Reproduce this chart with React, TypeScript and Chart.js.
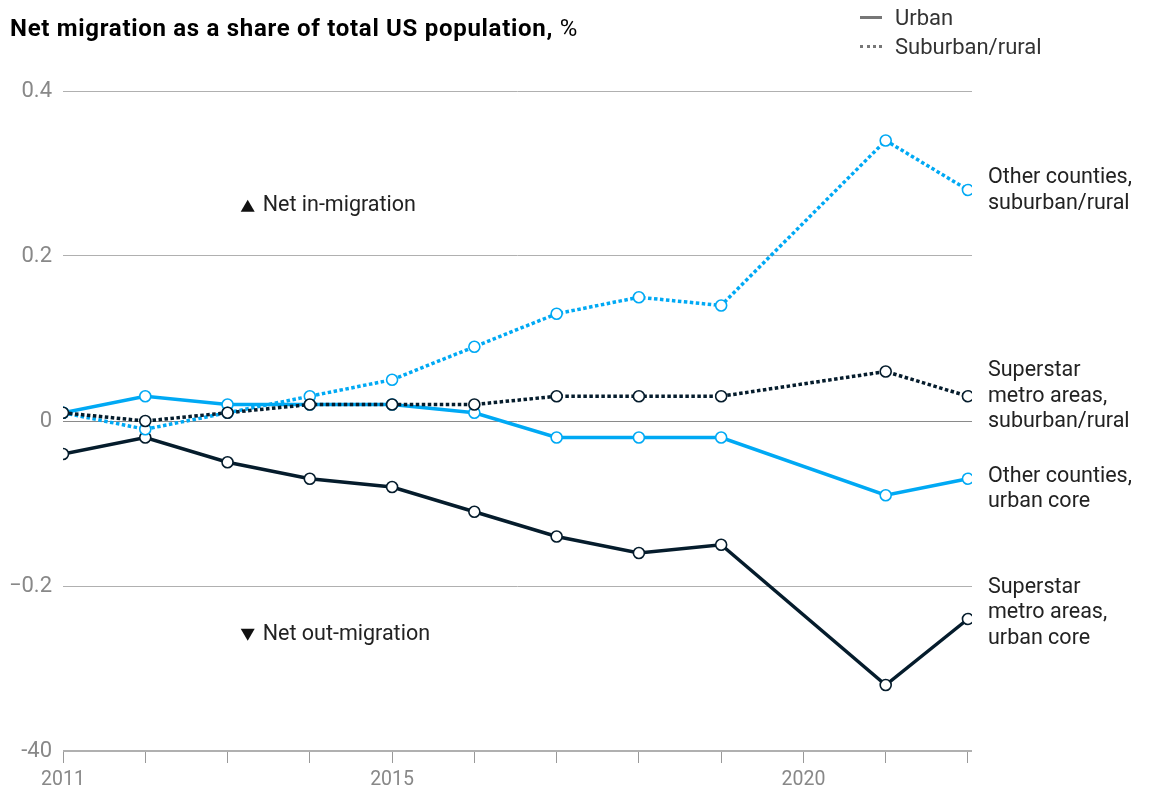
import React, { useEffect, useRef } from "react";
import { Chart, registerables } from "chart.js";

Chart.register(...registerables);

const years = [2011, 2012, 2013, 2014, 2015, 2016, 2017, 2018, 2019, 2020, 2021, 2022];
const superstarUrban = [-0.04, -0.02, -0.05, -0.07, -0.08, -0.11, -0.14, -0.16, -0.15, null, -0.32, -0.24];
const otherUrban = [0.01, 0.03, 0.02, 0.02, 0.02, 0.01, -0.02, -0.02, -0.02, null, -0.09, -0.07];
const otherSuburban = [0.01, -0.01, 0.01, 0.03, 0.05, 0.09, 0.13, 0.15, 0.14, null, 0.34, 0.28];
const superstarSuburban = [0.01, 0.0, 0.01, 0.02, 0.02, 0.02, 0.03, 0.03, 0.03, null, 0.06, 0.03];

const yTickValues = [-0.4, -0.2, 0, 0.2, 0.4];
const yTickLabels = ["-40", "\u22120.2", "0", "0.2", "0.4"];
const xLabeledYears = [2011, 2015, 2020];

const seriesLabels = [
  ["Other counties,", "suburban/rural"],
  ["Superstar", "metro areas,", "suburban/rural"],
  ["Other counties,", "urban core"],
  ["Superstar", "metro areas,", "urban core"],
];
const seriesLabelAnchors = [0.279, 0.03, -0.0825, -0.2325];

const BLUE = "#00A9F4";
const NAVY = "#051C2C";
const FONT = "Roboto, 'Liberation Sans', sans-serif";

export default function App() {
  const ref = useRef<HTMLCanvasElement | null>(null);

  useEffect(() => {
    if (!ref.current) return;
    const labelsPlugin = {
      id: "sideLabels",
      afterDatasetsDraw(chart: any) {
        const ctx = chart.ctx;
        const y = chart.scales.y;
        const x = chart.scales.x;
        ctx.save();
        ctx.fillStyle = "#222";
        ctx.font = `21.5px ${FONT}`;
        ctx.textBaseline = "middle";
        ctx.textAlign = "left";
        const lh = 25.5;
        seriesLabels.forEach((lines, i) => {
          const cy = y.getPixelForValue(seriesLabelAnchors[i]);
          const start = cy - ((lines.length - 1) * lh) / 2;
          lines.forEach((t, j) => ctx.fillText(t, 988, start + j * lh));
        });
        // annotations
        const ax = x.getPixelForValue(2013.16);
        const drawTri = (px: number, py: number, up: boolean) => {
          ctx.beginPath();
          if (up) {
            ctx.moveTo(px, py - 6);
            ctx.lineTo(px + 7, py + 6);
            ctx.lineTo(px - 7, py + 6);
          } else {
            ctx.moveTo(px, py + 6);
            ctx.lineTo(px + 7, py - 6);
            ctx.lineTo(px - 7, py - 6);
          }
          ctx.closePath();
          ctx.fill();
        };
        const inY = y.getPixelForValue(0.261);
        const outY = y.getPixelForValue(-0.259);
        ctx.fillStyle = "#111";
        drawTri(ax + 7, inY, true);
        drawTri(ax + 7, outY, false);
        ctx.fillStyle = "#222";
        ctx.fillText("Net in-migration", ax + 22, inY);
        ctx.fillText("Net out-migration", ax + 22, outY);
        ctx.restore();
      },
    };

    const mk = (data: (number | null)[], color: string, dotted: boolean) => ({
      data,
      borderColor: color,
      backgroundColor: "#fff",
      borderWidth: 3.5,
      borderDash: dotted ? [3.5, 2.5] : [],
      pointRadius: 5.5,
      pointBorderWidth: 1.6,
      pointBackgroundColor: "#fff",
      pointBorderColor: color,
      spanGaps: true,
      tension: 0,
      borderCapStyle: "butt",
    });

    const chart = new Chart(ref.current, {
      type: "line",
      data: {
        labels: years,
        datasets: [
          mk(superstarSuburban, NAVY, true),
          mk(otherSuburban, BLUE, true),
          mk(superstarUrban, NAVY, false),
          mk(otherUrban, BLUE, false),
        ].map((d, i) => ({ ...d, order: i })) as any,
      },
      options: {
        animation: false,
        responsive: false,
        layout: { padding: { top: 91, right: 177, left: 0, bottom: 0 } },
        plugins: { legend: { display: false }, tooltip: { enabled: false } },
        scales: {
          x: {
            type: "linear",
            min: 2011,
            max: 2022.049,
            afterBuildTicks: (s: any) => {
              s.ticks = years.map((v) => ({ value: v }));
            },
            afterFit: (s: any) => {
              s.height = 42;
            },
            border: { display: false },
            grid: {
              drawOnChartArea: false,
              drawTicks: true,
              tickLength: 12,
              color: "#999",
              lineWidth: 1,
            },
            ticks: {
              autoSkip: false,
              maxRotation: 0,
              padding: 5,
              color: "#888",
              font: { family: FONT, size: 19.5 },
              callback: (v: any) => (xLabeledYears.includes(Number(v)) ? String(v) : ""),
            },
          },
          y: {
            min: -0.4,
            max: 0.4,
            afterBuildTicks: (s: any) => {
              s.ticks = yTickValues.map((v) => ({ value: v }));
            },
            afterFit: (s: any) => {
              s.width = 63;
            },
            border: { display: false },
            grid: {
              drawTicks: false,
              color: (c: any) => {
                const v = c.tick ? c.tick.value : 0;
                if (Math.abs(v) < 1e-9) return "#8a8a8a";
                return "#b0b0b0";
              },
              lineWidth: (c: any) => {
                const v = c.tick ? c.tick.value : 0;
                return Math.abs(v + 0.4) < 1e-9 ? 2 : 1;
              },
            },
            ticks: {
              padding: 11,
              color: "#888",
              font: { family: FONT, size: 22 },
              callback: (v: any) => {
                const idx = yTickValues.findIndex((t) => Math.abs(t - Number(v)) < 1e-9);
                return idx >= 0 ? yTickLabels[idx] : "";
              },
            },
          },
        },
      } as any,
      plugins: [labelsPlugin],
    });
    return () => chart.destroy();
  }, []);

  return (
    <div style={{ position: "fixed", left: 0, top: 0, width: 1149, height: 793, background: "#fff" }}>
      <canvas ref={ref} width={1149} height={793} style={{ position: "absolute", left: 0, top: 0 }} />
      <div
        style={{
          position: "absolute",
          left: 10,
          top: 14,
          fontFamily: FONT,
          fontSize: 24,
          letterSpacing: 0.7,
          color: "#000",
          whiteSpace: "nowrap",
        }}
      >
        <span style={{ fontWeight: 700 }}>Net migration as a share of total US population,</span>
        <span style={{ fontWeight: 400 }}> %</span>
      </div>
      <div
        style={{
          position: "absolute",
          left: 860,
          top: 3,
          fontFamily: FONT,
          fontSize: 22,
          color: "#333",
          lineHeight: "29px",
          whiteSpace: "nowrap",
        }}
      >
        <div style={{ display: "flex", alignItems: "center" }}>
          <span style={{ display: "inline-block", width: 22, height: 0, borderTop: "3px solid #777", marginRight: 13 }} />
          Urban
        </div>
        <div style={{ display: "flex", alignItems: "center" }}>
          <span style={{ display: "inline-block", width: 22, height: 0, borderTop: "3px dotted #777", marginRight: 13 }} />
          Suburban/rural
        </div>
      </div>
    </div>
  );
}
